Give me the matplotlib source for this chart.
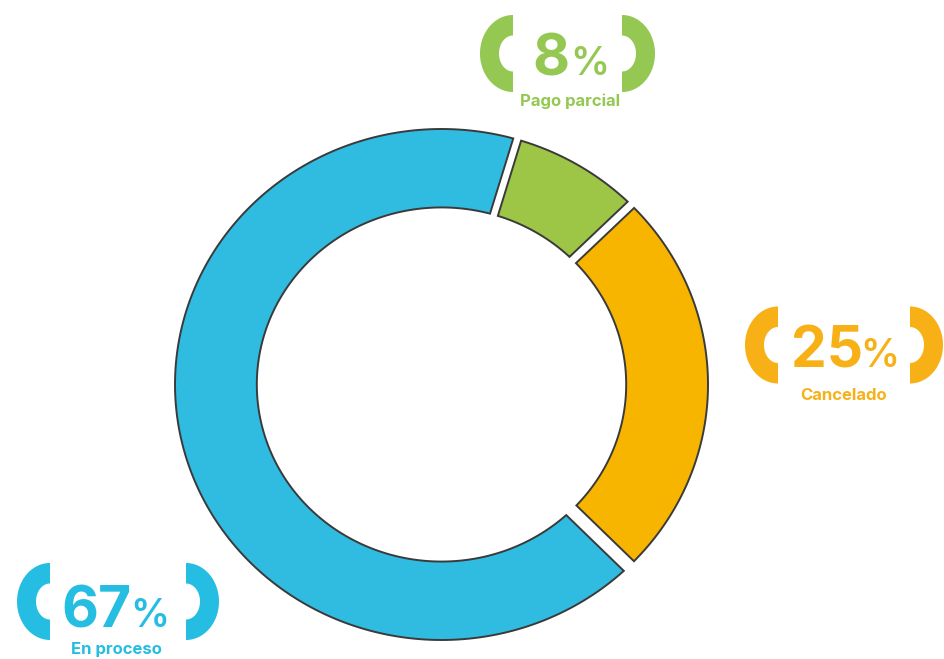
import numpy as np
import matplotlib
matplotlib.use("Agg")
import matplotlib.pyplot as plt
from matplotlib.patches import Polygon

# ---- data ----
categories = ["Pago parcial", "Cancelado", "En proceso"]
values = [8, 25, 67]

# ---- styles ----
slice_colors = ["#9DC546", "#F8B500", "#30BBE0"]
text_colors = ["#94C853", "#F7B116", "#25BEE2"]
edge_color = "#3a3a3a"
start_deg = 16.5          # clockwise from 12 o'clock
inner_r = 0.693
gaps_px = [8, 9, 14]      # gap before slice i (between previous and slice i)
px_per_unit = 261.0

FONT = ["Inter", "DejaVu Sans"]

W, H = 944, 659
fig = plt.figure(figsize=(W / 100, H / 100), dpi=100)

# donut axes (slightly elliptical, as in the reference)
cx, cy = 441.5, 384.5
rx, ry = 266.5, 255.5
L = 1.1
wpx, hpx = 2 * L * rx, 2 * L * ry
ax = fig.add_axes([(cx - wpx / 2) / W, ((H - cy) - hpx / 2) / H, wpx / W, hpx / H])
ax.set_xlim(-L, L)
ax.set_ylim(-L, L)
ax.axis("off")
ax.patch.set_alpha(0)

total = float(sum(values))
bounds = np.deg2rad(start_deg + np.concatenate([[0], np.cumsum(values)]) / total * 360.0)
n = len(values)
for i in range(n):
    p1, p2 = bounds[i], bounds[i + 1]
    d1 = gaps_px[i] / 2 / px_per_unit
    d2 = gaps_px[(i + 1) % n] / 2 / px_per_unit
    po = np.linspace(p1 + np.arcsin(d1 / 1.0), p2 - np.arcsin(d2 / 1.0), 200)
    pi_ = np.linspace(p2 - np.arcsin(d2 / inner_r), p1 + np.arcsin(d1 / inner_r), 200)
    xs = np.concatenate([np.sin(po), inner_r * np.sin(pi_)])
    ys = np.concatenate([np.cos(po), inner_r * np.cos(pi_)])
    ax.add_patch(Polygon(np.column_stack([xs, ys]), closed=True,
                         facecolor=slice_colors[i], edgecolor=edge_color,
                         linewidth=1.4, joinstyle="miter"))

# overlay axes in pixel coordinates for labels
ov = fig.add_axes([0, 0, 1, 1])
ov.set_xlim(0, W)
ov.set_ylim(H, 0)
ov.axis("off")
ov.patch.set_alpha(0)


def bracket(xcut, yc, side, color, a_out=33, a_in=14, h_out=38.5, h_in=18):
    t = np.linspace(-np.pi / 2, np.pi / 2, 100)
    s = -1 if side == "left" else 1
    xo = xcut + s * a_out * np.cos(t)
    yo = yc + h_out * np.sin(t)
    xi = xcut + s * a_in * np.cos(t[::-1])
    yi = yc + h_in * np.sin(t[::-1])
    ov.add_patch(Polygon(np.column_stack([np.concatenate([xo, xi]),
                                          np.concatenate([yo, yi])]),
                         closed=True, facecolor=color, edgecolor="none"))


# label layout per category: (left cut, right cut, bracket yc, digit x, pct x, baseline, label x, label baseline)
layout = [
    (513, 622, 53.5, 551, 590, 75, 570, 106),
    (778, 910, 345, 827, 880, 367, 844, 400),
    (50, 186, 601.5, 96, 150, 627, 116, 654),
]

for i, (cat, v) in enumerate(zip(categories, values)):
    lc, rc, yc, dx, px, base, lx, lb = layout[i]
    col = text_colors[i]
    bracket(lc, yc, "left", col)
    bracket(rc, yc, "right", col)
    ov.text(dx, base, f"{v}", color=col, fontsize=41, fontweight="bold",
            family=FONT, ha="center", va="baseline")
    ov.text(px, base, "%", color=col, fontsize=28, fontweight="semibold",
            family=FONT, ha="center", va="baseline")
    ov.text(lx, lb, cat, color=col, fontsize=12, fontweight="bold",
            family=FONT, ha="center", va="baseline")

fig.savefig("out.png", dpi=100)
